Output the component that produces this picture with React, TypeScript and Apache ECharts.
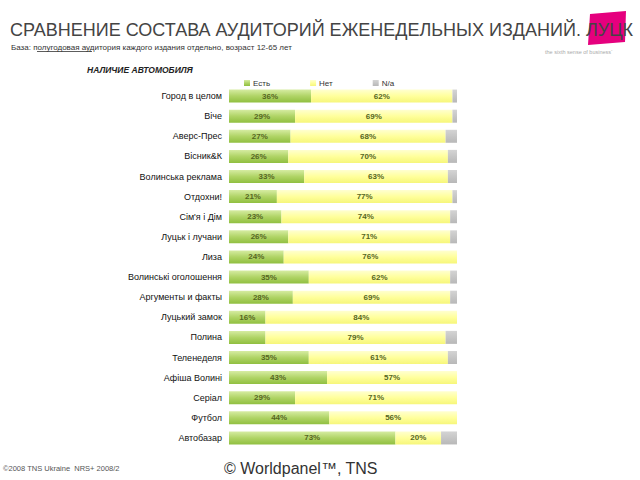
import React, { useEffect, useRef } from "react";
import * as echarts from "echarts";

const categories = [
  "Город в целом",
  "Віче",
  "Аверс-Прес",
  "Вісник&К",
  "Волинська реклама",
  "Отдохни!",
  "Сім'я і Дім",
  "Луцьк і лучани",
  "Лиза",
  "Волинські оголошення",
  "Аргументы и факты",
  "Луцький замок",
  "Полина",
  "Теленеделя",
  "Афіша Волині",
  "Серіал",
  "Футбол",
  "Автобазар",
];

const yesValues = [36, 29, 27, 26, 33, 21, 23, 26, 24, 35, 28, 16, 16, 35, 43, 29, 44, 73];
const noValues = [62, 69, 68, 70, 63, 77, 74, 71, 76, 62, 69, 84, 79, 61, 57, 71, 56, 20];
const naValues = [2, 2, 5, 4, 4, 2, 3, 3, 0, 3, 3, 0, 5, 4, 0, 0, 0, 7];
const hiddenYesLabel = ["Полина"];

const legendNames = ["Есть", "Нет", "N/a"];

const FONT = "'Liberation Sans', Arial, sans-serif";

export default function App() {
  const ref = useRef<HTMLDivElement>(null);

  useEffect(() => {
    if (!ref.current) return;
    const chart = echarts.init(ref.current, undefined, { renderer: "svg" });

    const greenGrad = new echarts.graphic.LinearGradient(0, 0, 0, 1, [
      { offset: 0, color: "#d6eca2" },
      { offset: 0.5, color: "#b0d466" },
      { offset: 1, color: "#90bf40" },
    ]);
    const yellowGrad = new echarts.graphic.LinearGradient(0, 0, 0, 1, [
      { offset: 0, color: "#ffffd0" },
      { offset: 0.5, color: "#ffff9c" },
      { offset: 1, color: "#f6f67a" },
    ]);
    const grayGrad = new echarts.graphic.LinearGradient(0, 0, 0, 1, [
      { offset: 0, color: "#d4d4d4" },
      { offset: 1, color: "#b8b8b8" },
    ]);

    const labelStyle = {
      show: true,
      position: "inside" as const,
      formatter: "{c}%",
      color: "#56661f",
      fontSize: 8,
      fontWeight: "bold" as const,
      fontFamily: FONT,
    };

    const option: any = {
      animation: false,
      backgroundColor: "#ffffff",
      textStyle: { fontFamily: FONT },
      legend: {
        data: legendNames,
        left: 239,
        top: 74,
        itemWidth: 6,
        itemHeight: 6,
        itemGap: 40,
        icon: "rect",
        textStyle: { fontSize: 8, color: "#333", fontFamily: FONT, padding: [0, 0, 0, -2] },
        selectedMode: false,
      },
      grid: { left: 229, right: 183, top: 86, bottom: 32, containLabel: false },
      xAxis: {
        type: "value",
        min: 0,
        max: 100,
        show: false,
      },
      yAxis: {
        type: "category",
        data: categories,
        inverse: true,
        axisLine: { show: false },
        axisTick: { show: false },
        axisLabel: {
          fontSize: 9,
          color: "#111111",
          margin: 7,
          fontFamily: FONT,
        },
      },
      series: [
        {
          name: legendNames[0],
          type: "bar",
          stack: "total",
          barWidth: 13,
          itemStyle: { color: greenGrad },
          label: labelStyle,
          data: yesValues.map((v, i) =>
            hiddenYesLabel.includes(categories[i]) ? { value: v, label: { show: false } } : v
          ),
        },
        {
          name: legendNames[1],
          type: "bar",
          stack: "total",
          barWidth: 13,
          itemStyle: { color: yellowGrad },
          label: labelStyle,
          data: noValues,
        },
        {
          name: legendNames[2],
          type: "bar",
          stack: "total",
          barWidth: 13,
          itemStyle: { color: grayGrad },
          label: { show: false },
          data: naValues,
        },
      ],
      graphic: [
        {
          type: "polygon",
          shape: { points: [[590, 14], [626, 11], [625, 42], [588, 45]] },
          style: { fill: "#e5007e" },
        },
        {
          type: "text",
          left: 10,
          top: 21,
          style: {
            text: "СРАВНЕНИЕ СОСТАВА АУДИТОРИЙ ЕЖЕНЕДЕЛЬНЫХ ИЗДАНИЙ. ЛУЦК",
            font: `18px ${FONT}`,
            fill: "#444444",
          },
        },
        {
          type: "text",
          left: 545,
          top: 49,
          style: {
            text: "the sixth sense of business\u00b4",
            font: `5.5px ${FONT}`,
            fill: "#aaaaaa",
          },
        },
        {
          type: "text",
          left: 11,
          top: 43,
          style: {
            text: "База: полугодовая аудитория каждого издания отдельно, возраст 12-65 лет",
            font: `8px ${FONT}`,
            fill: "#333333",
          },
        },
        {
          type: "line",
          shape: { x1: 37, y1: 51.5, x2: 92, y2: 51.5 },
          style: { stroke: "#333333", lineWidth: 0.8 },
        },
        {
          type: "text",
          left: 87,
          top: 65,
          style: {
            text: "НАЛИЧИЕ АВТОМОБИЛЯ",
            font: `italic bold 8.5px ${FONT}`,
            fill: "#222222",
          },
        },
        {
          type: "text",
          left: 3,
          top: 464,
          style: {
            text: "©2008 TNS Ukraine  NRS+ 2008/2",
            font: `7.5px ${FONT}`,
            fill: "#555555",
          },
        },
        {
          type: "text",
          left: 224,
          top: 460,
          style: {
            text: "© Worldpanel™, TNS",
            font: `16px ${FONT}`,
            fill: "#333333",
          },
        },
      ],
    };

    chart.setOption(option);
    return () => chart.dispose();
  }, []);

  return <div ref={ref} style={{ width: 640, height: 480, position: "absolute", left: 0, top: 0 }} />;
}
